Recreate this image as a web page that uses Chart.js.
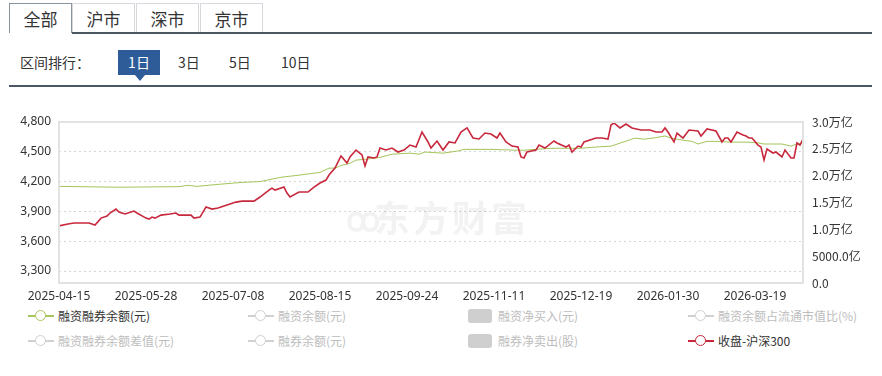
<!DOCTYPE html>
<html>
<head>
<meta charset="utf-8">
<script src="https://cdn.jsdelivr.net/npm/chart.js@4.4.1/dist/chart.umd.min.js"></script>
<style>
  body { margin: 0; width: 882px; height: 376px; background: #fff; position: relative; overflow: hidden;
         font-family: "Noto Sans CJK SC", "Noto Sans", sans-serif; color: #333; }
  .tab { position: absolute; top: 3px; height: 30px; width: 63px; box-sizing: border-box; border: 1px solid #d5d9dd;
         border-bottom: none; text-align: center; line-height: 29px; font-size: 17px; color: #333; background: #fff; }
  .tab.on { border-color: #8a949e; }
  .tabline { position: absolute; left: 72px; top: 32px; width: 800px; height: 2px; background: #4b5763; }
  .sep { position: absolute; left: 9px; top: 85px; width: 863px; height: 2px; background: #4b5763; }
  .lbl { position: absolute; top: 52px; font-size: 14px; line-height: 20px; color: #333; }
  .btn { position: absolute; left: 118px; top: 50px; width: 42px; height: 25px; background: #2d5c98; color: #fff;
         font-size: 14px; line-height: 25px; text-align: center; }
  .btn:after { content: ""; position: absolute; left: 17px; top: 25px; border-left: 5px solid transparent;
               border-right: 5px solid transparent; border-top: 6px solid #2d5c98; }
  .lg { position: absolute; font-size: 12px; line-height: 16px; color: #bdbdbd; white-space: nowrap; }
  .lg.on { color: #333; }
  .ico { position: absolute; width: 26px; height: 12px; top: 2px; }
  .ico .ln { position: absolute; left: 0; top: 5px; width: 26px; height: 2px; background: #ccc; }
  .ico .dot { position: absolute; left: 7px; top: 0; width: 9px; height: 9px; border: 1.5px solid #ccc;
              border-radius: 50%; background: #fff; }
  .box { position: absolute; left: 0; top: 1px; width: 24px; height: 14px; border-radius: 3px; background: #cfcfcf; }
  #wrap { position: absolute; left: 0; top: 100px; width: 882px; height: 205px; }
</style>
</head>
<body>
<div class="tab on" style="left:9px">全部</div>
<div class="tab" style="left:72px">沪市</div>
<div class="tab" style="left:136px">深市</div>
<div class="tab" style="left:200px">京市</div>
<div class="tabline"></div>

<div class="lbl" style="left:20px">区间排行：</div>
<div class="btn">1日</div>
<div class="lbl" style="left:178px">3日</div>
<div class="lbl" style="left:229px">5日</div>
<div class="lbl" style="left:281px">10日</div>
<div class="sep"></div>

<div id="wrap"><canvas id="marginChart" width="882" height="205"></canvas></div>
<div id="legend"></div>

<script>
// x axis: trading-day index, labelled every 29 days
const tickDays = [0, 29, 58, 87, 116, 145, 174, 203, 232];
const tickDates = ['2025-04-15', '2025-05-28', '2025-07-08', '2025-08-15', '2025-09-24',
                   '2025-11-11', '2025-12-19', '2026-01-30', '2026-03-19'];
const lastDay = 248;

// 收盘-沪深300 (left axis)
const closeDays = [0, 3, 5, 10, 12, 14, 16, 17, 19, 20, 22, 25, 26, 29, 30, 31, 32, 34, 37, 39,
  40, 44, 45, 47, 49, 51, 53, 55, 57, 59, 61, 65, 67, 70, 71, 72, 75, 76, 77, 80,
  83, 85, 87, 89, 90, 92, 94, 96, 97, 99, 101, 102, 103, 105, 106, 107, 109, 111, 113, 115,
  117, 119, 121, 123, 124, 126, 128, 130, 132, 134, 136, 138, 140, 142, 144, 146, 147, 149, 151, 153,
  154, 155, 156, 159, 160, 162, 165, 166, 169, 170, 171, 173, 174, 175, 179, 181, 183, 184, 185, 187,
  189, 191, 194, 197, 199, 201, 202, 203, 205, 206, 208, 210, 213, 214, 216, 219, 221, 222, 223, 224,
  226, 228, 229, 230, 231, 233, 234, 235, 236, 238, 239, 241, 242, 244, 245, 246, 247, 248];
const closeValues = [3755, 3773, 3783, 3783, 3763, 3833, 3853, 3884, 3924, 3894, 3874, 3904, 3884, 3833, 3823, 3843, 3833, 3863, 3874, 3884,
  3863, 3863, 3833, 3843, 3944, 3924, 3934, 3954, 3974, 3994, 4004, 4004, 4045, 4115, 4135, 4115, 4145, 4085, 4045, 4095,
  4095, 4145, 4186, 4216, 4266, 4337, 4458, 4387, 4448, 4518, 4468, 4357, 4448, 4438, 4448, 4538, 4518, 4538, 4498, 4518,
  4568, 4548, 4699, 4599, 4538, 4609, 4518, 4599, 4589, 4699, 4740, 4639, 4629, 4689, 4679, 4639, 4689, 4599, 4558, 4548,
  4448, 4438, 4498, 4518, 4568, 4538, 4609, 4589, 4548, 4568, 4498, 4558, 4548, 4599, 4639, 4639, 4629, 4770, 4790, 4740,
  4780, 4740, 4719, 4719, 4699, 4699, 4740, 4699, 4599, 4689, 4639, 4719, 4709, 4659, 4730, 4709, 4599, 4639, 4639, 4599,
  4699, 4669, 4659, 4639, 4639, 4568, 4548, 4417, 4528, 4488, 4498, 4448, 4518, 4438, 4438, 4589, 4568, 4629];

// 融资融券余额 in 亿元 (right axis)
const marginDays = [0, 20, 40, 43, 46, 52, 61, 67, 74, 80, 87, 90, 92, 94, 97, 99, 103, 107, 111, 117,
  120, 122, 128, 133, 135, 144, 152, 155, 164, 174, 178, 184, 188, 192, 195, 198, 202, 204, 208, 211,
  213, 216, 219, 224, 230, 233, 235, 241, 244, 246, 248];
const marginValues = [18000, 17850, 17950, 18200, 18000, 18330, 18750, 18900, 19700, 20100, 20600, 21400, 21400, 21900, 22300, 22900, 23100, 23400, 24000, 24200,
  24000, 24400, 24200, 24600, 24900, 24900, 24750, 24750, 25100, 25100, 25300, 25500, 26250, 27000, 26800, 27000, 27400, 27000, 26600, 26400,
  25900, 26400, 26400, 26250, 26250, 26100, 25900, 25900, 25500, 25900, 26100];

const leftTicks = [3300, 3600, 3900, 4200, 4500, 4800];

const legendItems = [
  { name: '融资融券余额(元)', type: 'line', color: '#a9c65c', on: true, col: 0, row: 0 },
  { name: '融资余额(元)', type: 'line', color: '#d0d0d0', on: false, col: 1, row: 0 },
  { name: '融资净买入(元)', type: 'box', color: '#cfcfcf', on: false, col: 2, row: 0 },
  { name: '融资余额占流通市值比(%)', type: 'line', color: '#d0d0d0', on: false, col: 3, row: 0 },
  { name: '融资融券余额差值(元)', type: 'line', color: '#d0d0d0', on: false, col: 0, row: 1 },
  { name: '融券余额(元)', type: 'line', color: '#d0d0d0', on: false, col: 1, row: 1 },
  { name: '融券净卖出(股)', type: 'box', color: '#cfcfcf', on: false, col: 2, row: 1 },
  { name: '收盘-沪深300', type: 'line', color: '#c8283c', on: true, col: 3, row: 1 }
];

const legend = document.getElementById('legend');
legendItems.forEach(function(it) {
  const d = document.createElement('div');
  d.className = 'lg' + (it.on ? ' on' : '');
  d.style.left = (28 + it.col * 220) + 'px';
  d.style.top = (308 + it.row * 25) + 'px';
  let icon;
  if (it.type === 'box') {
    icon = '<span class="box" style="background:' + it.color + '"></span>';
  } else {
    icon = '<span class="ico"><span class="ln" style="background:' + it.color + '"></span>' +
           '<span class="dot" style="border-color:' + it.color + '"></span></span>';
  }
  d.innerHTML = icon + '<span style="margin-left:30px">' + it.name + '</span>';
  legend.appendChild(d);
});

const framePlugin = {
  id: 'frame',
  beforeDatasetsDraw(chart) {
    const ctx = chart.ctx;
    ctx.save();
    // watermark
    ctx.fillStyle = 'rgba(0,0,0,0.05)';
    ctx.textBaseline = 'middle';
    ctx.font = 'bold 36px "Noto Sans CJK SC"';
    ctx.letterSpacing = '3px';
    ctx.fillText('东方财富', 374, 118);
    ctx.font = 'bold 34px "Noto Sans CJK SC"';
    ctx.letterSpacing = '0px';
    ctx.fillText('ꝏ', 346, 118);
    ctx.restore();
  },
  afterDraw(chart) {
    const a = chart.chartArea, ctx = chart.ctx;
    ctx.save();
    ctx.strokeStyle = '#e2e2e2';
    ctx.lineWidth = 2;
    ctx.strokeRect(a.left, a.top, a.right - a.left, a.bottom - a.top);
    ctx.restore();
  }
};

const ctx = document.getElementById('marginChart').getContext('2d');
new Chart(ctx, {
  type: 'line',
  data: {
    datasets: [{
      label: '收盘-沪深300',
      data: closeDays.map((d, i) => ({ x: d, y: closeValues[i] })),
      borderColor: '#c8283c',
      borderWidth: 1.6,
      pointRadius: 0,
      tension: 0,
      yAxisID: 'y'
    }, {
      label: '融资融券余额(元)',
      data: marginDays.map((d, i) => ({ x: d, y: marginValues[i] })),
      borderColor: '#a3c45a',
      borderWidth: 1,
      pointRadius: 0,
      tension: 0,
      yAxisID: 'y2'
    }]
  },
  options: {
    responsive: false,
    animation: false,
    layout: { padding: { top: 22, left: 0, right: 0, bottom: 0 } },
    plugins: { legend: { display: false }, tooltip: { enabled: false } },
    scales: {
      x: {
        type: 'linear',
        min: 0,
        max: lastDay,
        afterBuildTicks: s => { s.ticks = tickDays.map(v => ({ value: v })); },
        afterFit: s => { s.height = 22; },
        grid: { display: false, drawTicks: false },
        border: { display: false },
        ticks: {
          padding: 6,
          maxRotation: 0,
          autoSkip: false,
          color: '#333',
          font: { size: 12, family: '"Noto Sans", sans-serif' },
          callback: v => tickDates[tickDays.indexOf(v)]
        }
      },
      y: {
        position: 'left',
        min: 3180,
        max: 4800,
        afterBuildTicks: s => { s.ticks = leftTicks.map(v => ({ value: v })); },
        afterFit: s => { s.width = 59; },
        grid: {
          drawTicks: false,
          color: c => (c.tick && c.tick.value === 4800 ? 'rgba(0,0,0,0)' : '#d6d6d6')
        },
        border: { display: false, dash: [2, 3] },
        ticks: {
          padding: 8,
          color: '#333',
          font: { size: 12, family: '"Noto Sans", sans-serif' },
          callback: v => v.toLocaleString('en-US')
        }
      },
      y2: {
        position: 'right',
        min: 0,
        max: 30000,
        afterFit: s => { s.width = 79; },
        grid: { display: false, drawTicks: false },
        border: { display: false },
        ticks: {
          stepSize: 5000,
          padding: 9,
          color: '#333',
          font: { size: 12, family: '"Noto Sans CJK SC", sans-serif' },
          callback: v => v === 0 ? '0.0' : (v < 10000 ? v.toFixed(1) + '亿' : (v / 10000).toFixed(1) + '万亿')
        }
      }
    }
  },
  plugins: [framePlugin]
});
</script>
</body>
</html>
